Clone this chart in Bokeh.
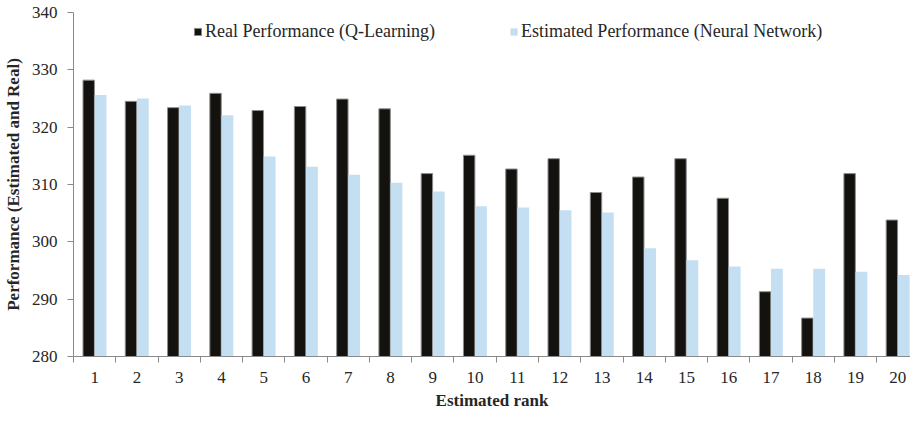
from bokeh.plotting import figure
from bokeh.models import ColumnDataSource, FixedTicker, Range1d, Legend, LegendItem
from bokeh.transform import dodge
from bokeh.embed import file_html
from bokeh.resources import INLINE

ranks = list(range(1, 21))
real_perf = [328.2, 324.5, 323.4, 325.9, 322.9, 323.6, 324.9, 323.2, 311.9, 315.1,
             312.7, 314.5, 308.6, 311.3, 314.5, 307.6, 291.3, 286.7, 311.9, 303.8]
est_perf = [325.6, 325.0, 323.8, 322.1, 314.9, 313.1, 311.7, 310.3, 308.8, 306.2,
            306.0, 305.5, 305.1, 298.9, 296.8, 295.7, 295.3, 295.3, 294.8, 294.2]
y_ticks = [280, 290, 300, 310, 320, 330, 340]
series_names = ["Real Performance (Q-Learning)", "Estimated Performance (Neural Network)"]

src = ColumnDataSource(dict(rank=ranks, real=real_perf, est=est_perf))

FONT = "Liberation Serif"
TXT = "#262626"
AX = "#8a8a8a"

p = figure(width=910, height=412, output_backend="svg", toolbar_location=None,
           x_range=Range1d(0.5, 20.3), y_range=Range1d(280, 340),
           min_border_left=73, min_border_right=0, min_border_top=12, min_border_bottom=54)
p.outline_line_color = None
p.xgrid.visible = False
p.ygrid.visible = False

r1 = p.vbar(x=dodge("rank", -0.14), top="real", bottom=280, width=0.27, source=src,
            fill_color="#13120e", line_color="#8c8c8c", line_width=1)
r2 = p.vbar(x=dodge("rank", 0.14), top="est", bottom=280, width=0.28, source=src,
            fill_color="#c5dff2", line_color=None)

xa = p.xaxis[0]
xa.ticker = FixedTicker(ticks=ranks, minor_ticks=[0.5 + i for i in range(21)])
xa.major_tick_out = 0
xa.major_tick_in = 0
xa.minor_tick_out = 6
xa.minor_tick_in = 0
xa.minor_tick_line_color = AX
xa.axis_line_color = AX
xa.major_label_standoff = 9
xa.axis_label = "Estimated rank"
xa.axis_label_standoff = 5

ya = p.yaxis[0]
ya.ticker = FixedTicker(ticks=y_ticks, minor_ticks=[])
ya.major_tick_out = 6
ya.major_tick_in = 0
ya.major_tick_line_color = AX
ya.axis_line_color = AX
ya.major_label_standoff = 10
ya.axis_label = "Performance (Estimated and Real)"
ya.axis_label_standoff = 6

for ax in (xa, ya):
    ax.major_label_text_font = FONT
    ax.major_label_text_font_size = "17px"
    ax.major_label_text_color = TXT
    ax.axis_label_text_font = FONT
    ax.axis_label_text_font_size = "17px"
    ax.axis_label_text_font_style = "bold"
    ax.axis_label_text_color = TXT

legend = Legend(items=[LegendItem(label=series_names[0], renderers=[r1]),
                       LegendItem(label=series_names[1], renderers=[r2])],
                orientation="horizontal", location=(120, 314),
                border_line_color=None, background_fill_alpha=0,
                glyph_width=9, glyph_height=9, label_standoff=3, spacing=74,
                padding=0, margin=0,
                label_text_font=FONT, label_text_font_size="18px", label_text_color=TXT)
p.add_layout(legend)

open("out.html", "w").write(file_html(p, INLINE))
